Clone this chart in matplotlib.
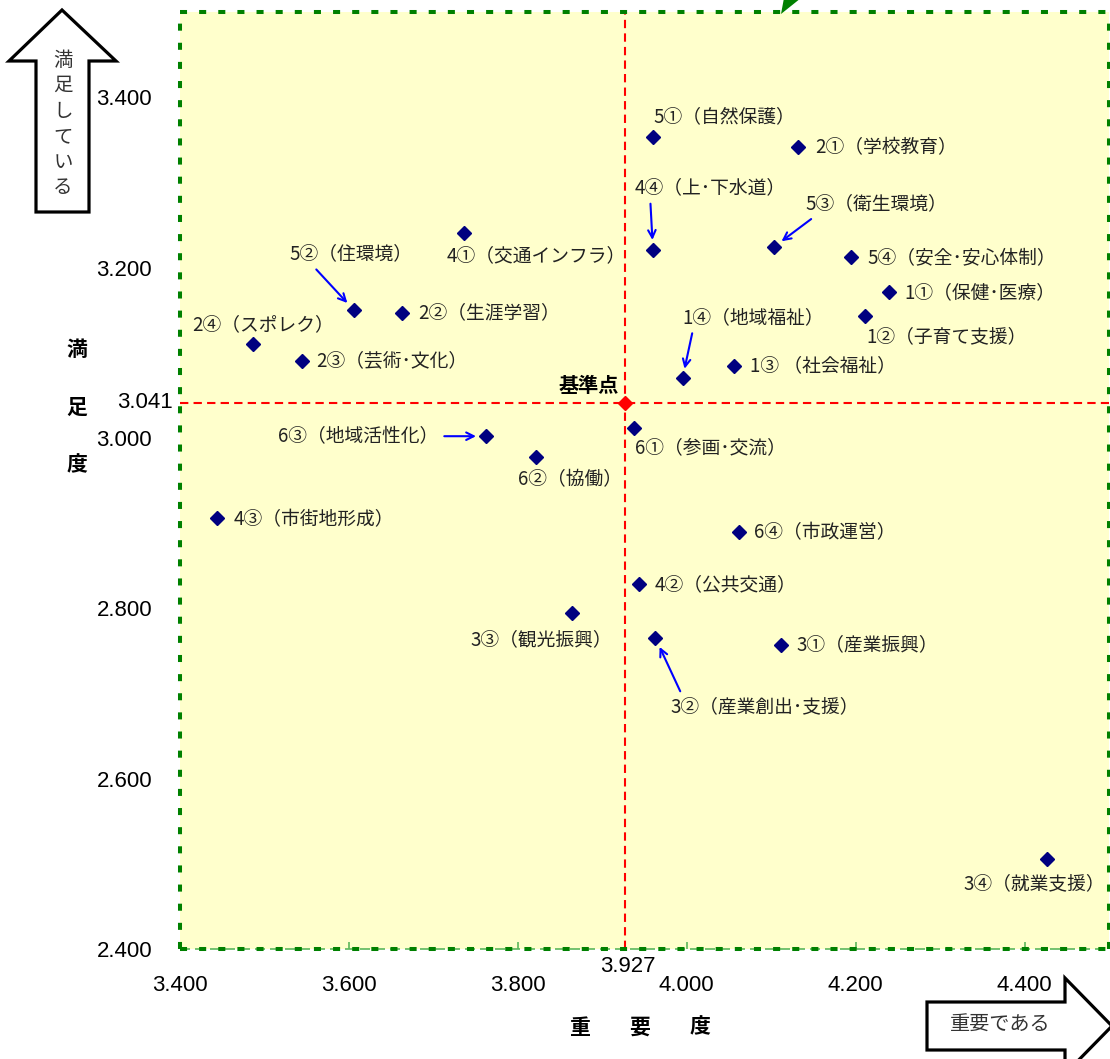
import matplotlib
matplotlib.use("Agg")
import matplotlib.pyplot as plt
from matplotlib.patches import Polygon
from matplotlib.ticker import FormatStrFormatter

plt.rcParams['font.family'] = ['Noto Sans CJK JP', 'DejaVu Sans']

# --- data: importance (x) / satisfaction (y) per policy item ---
labels = [
    "5①（自然保護）", "2①（学校教育）", "4④（上･下水道）", "5③（衛生環境）",
    "5④（安全･安心体制）", "1①（保健･医療）", "1②（子育て支援）", "1④（地域福祉）",
    "1③ （社会福祉）", "4①（交通インフラ）", "5②（住環境）", "2②（生涯学習）",
    "2④（スポレク）", "2③（芸術･文化）", "6③（地域活性化）", "6①（参画･交流）",
    "6②（協働）", "4③（市街地形成）", "6④（市政運営）", "4②（公共交通）",
    "3③（観光振興）", "3②（産業創出･支援）", "3①（産業振興）", "3④（就業支援）",
]
importance = [3.960, 4.132, 3.960, 4.103, 4.195, 4.239, 4.211, 3.995,
              4.056, 3.736, 3.606, 3.663, 3.486, 3.544, 3.762, 3.937,
              3.821, 3.444, 4.062, 3.944, 3.864, 3.963, 4.112, 4.427]
satisfaction = [3.353, 3.341, 3.221, 3.224, 3.212, 3.171, 3.143, 3.070,
                3.085, 3.241, 3.150, 3.147, 3.110, 3.090, 3.002, 3.012,
                2.978, 2.906, 2.889, 2.828, 2.795, 2.765, 2.757, 2.506]
base_x, base_y = 3.927, 3.041
x_ticks = [3.4, 3.6, 3.8, 4.0, 4.2, 4.4]
y_ticks = [2.4, 2.6, 2.8, 3.0, 3.2, 3.4]

# label placement: offset in pixels (dx, dy up), ha, arrow relpos or None
layout = {
    "5①（自然保護）": (1, 21, "left", None),
    "2①（学校教育）": (17, 0, "left", None),
    "4④（上･下水道）": (-18, 62, "left", (0.1, 0.1)),
    "5③（衛生環境）": (32, 43, "left", (0.1, 0.1)),
    "5④（安全･安心体制）": (16, 0, "left", None),
    "1①（保健･医療）": (16, 0, "left", None),
    "1②（子育て支援）": (1, -21, "left", None),
    "1④（地域福祉）": (0, 61, "left", (0.08, 0.1)),
    "1③ （社会福祉）": (16, 0, "left", None),
    "4①（交通インフラ）": (-17, -23, "left", None),
    "5②（住環境）": (-65, 56, "left", (0.17, 0.1)),
    "2②（生涯学習）": (16, 0, "left", None),
    "2④（スポレク）": (-60, 20, "left", None),
    "2③（芸術･文化）": (15, 0, "left", None),
    "6③（地域活性化）": (-47, 0, "right", (0.95, 0.5)),
    "6①（参画･交流）": (1, -20, "left", None),
    "6②（協働）": (-18, -23, "left", None),
    "4③（市街地形成）": (16, -2, "left", None),
    "6④（市政運営）": (15, 0, "left", None),
    "4②（公共交通）": (15, 0, "left", None),
    "3③（観光振興）": (-101, -27, "left", None),
    "3②（産業創出･支援）": (15, -69, "left", (0.07, 0.9)),
    "3①（産業振興）": (15, 0, "left", None),
    "3④（就業支援）": (-84, -25, "left", None),
}

W, H = 1110, 1059
fig = plt.figure(figsize=(W / 100, H / 100), dpi=100)
ax = fig.add_axes([180 / W, 1 - 949 / H, 929 / W, (949 - 12) / H])
ax.set_facecolor("#FFFFCC")
ax.set_xlim(3.4, 4.5)
ax.set_ylim(2.4, 3.5)

for s in ax.spines.values():
    s.set_color("#008000")
    s.set_linewidth(2.9)
    s.set_linestyle((0, (1.75, 3)))
    s.set_capstyle("butt")

ax.axhline(2.4, color="#5cb85c", lw=1.2, ls=(0, (6, 3)), zorder=1, clip_on=False)

ax.set_xticks(x_ticks)
ax.set_yticks(y_ticks)
ax.xaxis.set_major_formatter(FormatStrFormatter("%.3f"))
ax.yaxis.set_major_formatter(FormatStrFormatter("%.3f"))
ax.tick_params(axis="x", direction="in", length=5, width=1.2, color="#5cb85c",
               pad=19, labelsize=16)
ax.tick_params(axis="y", length=0, pad=20, labelsize=16)
for t in ax.get_xticklabels() + ax.get_yticklabels():
    t.set_family("Liberation Sans")

# reference lines through base point
ax.axvline(base_x, color="red", lw=1.5, ls=(0, (4, 2.5)), zorder=2)
ax.axhline(base_y, color="red", lw=1.5, ls=(0, (4, 2.5)), zorder=2)
ax.plot([base_x], [base_y], "D", color="red", ms=7, zorder=4)
ax.annotate("基準点", (base_x, base_y), xytext=(-6, 17), textcoords="offset pixels",
            ha="right", va="center", fontsize=14.5, fontweight="bold")
ax.annotate(f"{base_x:.3f}", (base_x, 0), xycoords=("data", "axes fraction"),
            xytext=(3, -18), textcoords="offset pixels", ha="center", va="center",
            fontsize=16, family="Liberation Sans", annotation_clip=False)
ax.annotate(f"{base_y:.3f}", (0, base_y), xycoords=("axes fraction", "data"),
            xytext=(-7, 0), textcoords="offset pixels", ha="right", va="center",
            fontsize=16, family="Liberation Sans", annotation_clip=False)

ax.plot(importance, satisfaction, "D", color="#000080", ms=7, ls="none", zorder=5)

for lab, xv, yv in zip(labels, importance, satisfaction):
    dx, dy, ha, rel = layout[lab]
    kw = {}
    if rel is not None:
        kw["arrowprops"] = dict(arrowstyle="->", color="blue", lw=1.5,
                                shrinkA=2, shrinkB=7, relpos=rel)
    ax.annotate(lab, (xv, yv), xytext=(dx, dy), textcoords="offset pixels",
                ha=ha, va="center", fontsize=13.5, color="#222222", **kw)

# --- overlay in pixel coords: axis titles, block arrows ---
ov = fig.add_axes([0, 0, 1, 1], zorder=10)
ov.set_xlim(0, W)
ov.set_ylim(H, 0)
ov.axis("off")
ov.patch.set_visible(False)

for ch, yy in zip("満足度", [350, 407, 465]):
    ov.text(77, yy, ch, ha="center", va="center", fontsize=15, fontweight="bold")
for ch, xx in zip("重要度", [580, 640, 700]):
    ov.text(xx, 1027, ch, ha="center", va="center", fontsize=15, fontweight="bold")

up = [(36, 212), (36, 61), (9, 61), (62, 10), (116, 61), (89, 61), (89, 212)]
ov.add_patch(Polygon(up, closed=True, facecolor="white", edgecolor="black", lw=2.3,
                     joinstyle="miter"))
for i, ch in enumerate("満足している"):
    ov.text(63, 60 + i * 25.5, ch, ha="center", va="center", fontsize=14,
            color="#333333")

right = [(927, 1002), (1065, 1002), (1065, 978), (1112, 1026), (1065, 1074),
         (1065, 1050), (927, 1050)]
ov.add_patch(Polygon(right, closed=True, facecolor="white", edgecolor="black", lw=2.3,
                     joinstyle="miter", clip_on=False))
ov.text(1000, 1025, "重要である", ha="center", va="center", fontsize=14.5,
        color="#333333")

ov.add_patch(Polygon([(781, 14), (784, -2), (801, -2)], closed=True,
                     facecolor="#008000", edgecolor="none", clip_on=False))

fig.savefig("out.png", dpi=100)
